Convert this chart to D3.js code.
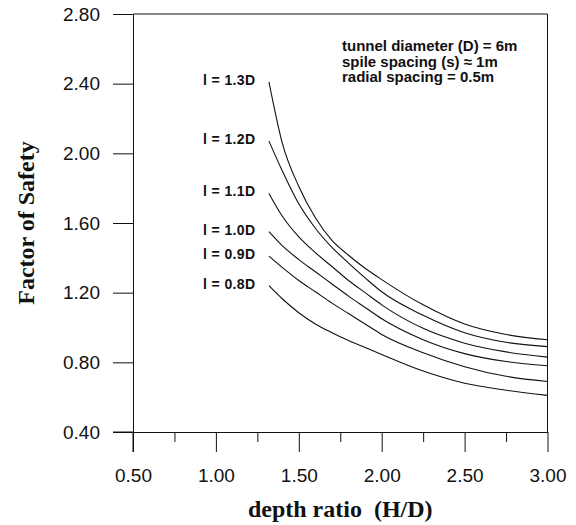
<!DOCTYPE html>
<html>
<head>
<meta charset="utf-8">
<script src="https://cdn.jsdelivr.net/npm/d3@7"></script>
<style>
  html, body { margin: 0; padding: 0; background: #fff; }
  svg { display: block; }
</style>
</head>
<body>
<svg id="chart" width="576" height="525"></svg>
<script>
// ---- data ----
const depthRatio = [1.32, 1.4, 1.5, 1.6, 1.7, 1.8, 1.9, 2.0, 2.25, 2.5, 2.75, 3.0];
const seriesNames = ["l = 1.3D", "l = 1.2D", "l = 1.1D", "l = 1.0D", "l = 0.9D", "l = 0.8D"];
const fs13 = [2.41, 2.06, 1.81, 1.63, 1.50, 1.415, 1.34, 1.275, 1.13, 1.02, 0.96, 0.93];
const fs12 = [2.07, 1.90, 1.71, 1.57, 1.46, 1.37, 1.285, 1.205, 1.07, 0.97, 0.915, 0.89];
const fs11 = [1.77, 1.64, 1.52, 1.43, 1.35, 1.27, 1.20, 1.13, 0.995, 0.91, 0.86, 0.83];
const fs10 = [1.55, 1.47, 1.39, 1.32, 1.25, 1.18, 1.115, 1.05, 0.93, 0.85, 0.805, 0.78];
const fs09 = [1.41, 1.345, 1.27, 1.205, 1.14, 1.08, 1.02, 0.96, 0.855, 0.775, 0.72, 0.69];
const fs08 = [1.24, 1.165, 1.085, 1.02, 0.97, 0.925, 0.885, 0.845, 0.75, 0.68, 0.64, 0.61];
const seriesValues = [fs13, fs12, fs11, fs10, fs09, fs08];
const xTicks = [0.5, 1.0, 1.5, 2.0, 2.5, 3.0];
const xMinorTicks = [0.75, 1.25, 1.75, 2.25, 2.75];
const yTicks = [0.4, 0.8, 1.2, 1.6, 2.0, 2.4, 2.8];
const noteLines = ["tunnel diameter (D) = 6m", "spile spacing (s) \u2248 1m", "radial spacing = 0.5m"];
const xTitle = "depth ratio  (H/D)";
const yTitle = "Factor of Safety";

// ---- layout ----
const svg = d3.select("#chart");
const x = d3.scaleLinear().domain([0.5, 3.0]).range([133, 547.5]);
const y = d3.scaleLinear().domain([0.4, 2.8]).range([432, 14]);
const ink = "#111";

// frame top & right
svg.append("line").attr("x1", x(0.5)).attr("x2", x(3.0)).attr("y1", y(2.8)).attr("y2", y(2.8))
  .attr("stroke", ink).attr("stroke-width", 1);
svg.append("line").attr("x1", x(3.0)).attr("x2", x(3.0)).attr("y1", y(2.8)).attr("y2", y(0.4))
  .attr("stroke", ink).attr("stroke-width", 1);

// y axis
const yAxis = svg.append("g").attr("transform", `translate(${x(0.5)},0)`)
  .call(d3.axisLeft(y).tickValues(yTicks).tickFormat(d3.format(".2f")).tickSize(20).tickPadding(13).tickSizeOuter(0));
// x axis
const xAxis = svg.append("g").attr("transform", `translate(0,${y(0.4)})`)
  .call(d3.axisBottom(x).tickValues(xTicks).tickFormat(d3.format(".2f")).tickSize(20).tickPadding(17).tickSizeOuter(0));
const xMinor = svg.append("g").attr("transform", `translate(0,${y(0.4)})`)
  .call(d3.axisBottom(x).tickValues(xMinorTicks).tickFormat("").tickSize(10).tickSizeOuter(0));
xMinor.select(".domain").remove();

[yAxis, xAxis, xMinor].forEach(g => {
  g.selectAll("line").attr("stroke", ink);
  g.selectAll(".domain").attr("stroke", ink);
  g.selectAll("text").attr("font-family", "'Liberation Sans', Arial, sans-serif")
    .attr("font-size", 19).attr("fill", ink);
});
// extend left axis below the x axis like the reference
svg.append("line").attr("x1", x(0.5)).attr("x2", x(0.5)).attr("y1", y(0.4)).attr("y2", y(0.4) + 20)
  .attr("stroke", ink);
// extend x axis line to the left tick
svg.append("line").attr("x1", x(0.5) - 20).attr("x2", x(0.5)).attr("y1", y(0.4)).attr("y2", y(0.4))
  .attr("stroke", ink);

// curves
const line = d3.line().x(d => x(d[0])).y(d => y(d[1])).curve(d3.curveMonotoneX);
seriesValues.forEach((vals, i) => {
  const pts = depthRatio.map((d, j) => [d, vals[j]]);
  svg.append("path").datum(pts).attr("d", line)
    .attr("fill", "none").attr("stroke", ink).attr("stroke-width", 1.1);
  svg.append("text")
    .attr("x", x(depthRatio[0]) - 66)
    .attr("y", y(vals[0]) + 3)
    .attr("font-family", "'Liberation Sans', Arial, sans-serif")
    .attr("font-weight", "bold").attr("font-size", 14).attr("letter-spacing", 0.4)
    .attr("fill", ink)
    .text(seriesNames[i]);
});

// note
noteLines.forEach((t, i) => {
  svg.append("text").attr("x", 342).attr("y", 51 + i * 15.5)
    .attr("font-family", "'Liberation Sans', Arial, sans-serif")
    .attr("font-weight", "bold").attr("font-size", 15).attr("fill", ink)
    .text(t);
});

// titles
svg.append("text").attr("x", (x(0.5) + x(3.0)) / 2).attr("y", 517)
  .attr("text-anchor", "middle").style("white-space", "pre")
  .attr("font-family", "'Liberation Serif', 'Times New Roman', serif")
  .attr("font-weight", "bold").attr("font-size", 24).attr("fill", ink)
  .text(xTitle);
svg.append("text").attr("transform", `translate(34,${(y(0.4) + y(2.8)) / 2}) rotate(-90)`)
  .attr("text-anchor", "middle").style("white-space", "pre")
  .attr("font-family", "'Liberation Serif', 'Times New Roman', serif")
  .attr("font-weight", "bold").attr("font-size", 24).attr("fill", ink)
  .text(yTitle);
</script>
</body>
</html>
